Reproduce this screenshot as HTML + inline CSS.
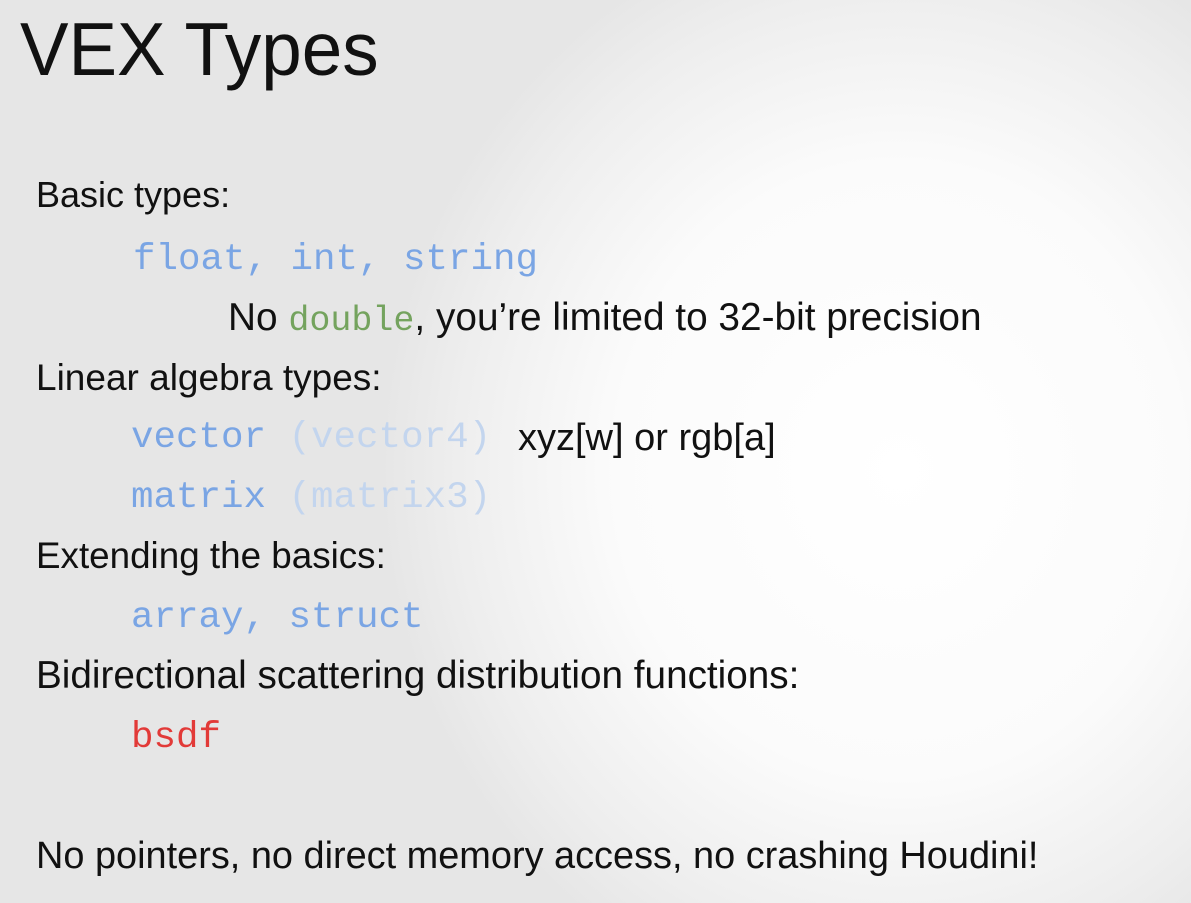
<!DOCTYPE html>
<html><head><meta charset="utf-8"><style>
html,body{margin:0;padding:0}
body{width:1191px;height:903px;overflow:hidden;position:relative;
background:radial-gradient(ellipse 520px 560px at 900px 470px,#ffffff 0%,#fbfbfb 55%,#eeeeee 85%,#e6e6e6 100%),#e4e4e4;
font-family:"Liberation Sans",sans-serif;color:#111}
.t{position:absolute;white-space:nowrap;font-size:37px;line-height:1}
.m{font-family:"Liberation Mono",monospace;font-size:37.5px}
.b{color:#7aa5e4}.lb{color:#c3d5ee}.g{color:#74a35e}.r{color:#e23a38}
</style></head><body>
<div class="t" style="left:20px;top:12px;font-size:75px;transform:scaleX(0.97);transform-origin:left">VEX Types</div>
<div class="t" style="left:36px;top:177px;font-size:36px">Basic types:</div>
<div class="t m b" style="left:133px;top:242px">float, int, string</div>
<div class="t" style="left:228px;top:299px;font-size:38.8px">No <span class="m g" style="font-size:35px">double</span>, you’re limited to 32-bit precision</div>
<div class="t" style="left:36px;top:359px">Linear algebra types:</div>
<div class="t m" style="left:131px;top:420px"><span class="b">vector</span> <span class="lb">(vector4)</span></div>
<div class="t" style="left:518px;top:419px;font-size:38px">xyz[w] or rgb[a]</div>
<div class="t m" style="left:131px;top:480px"><span class="b">matrix</span> <span class="lb">(matrix3)</span></div>
<div class="t" style="left:36px;top:538px;font-size:36.8px">Extending the basics:</div>
<div class="t m b" style="left:131px;top:600px">array, struct</div>
<div class="t" style="left:36px;top:657px;font-size:38.7px">Bidirectional scattering distribution functions:</div>
<div class="t m r" style="left:131px;top:720px">bsdf</div>
<div class="t" style="left:36px;top:838px;font-size:37.9px">No pointers, no direct memory access, no crashing Houdini!</div>
</body></html>
